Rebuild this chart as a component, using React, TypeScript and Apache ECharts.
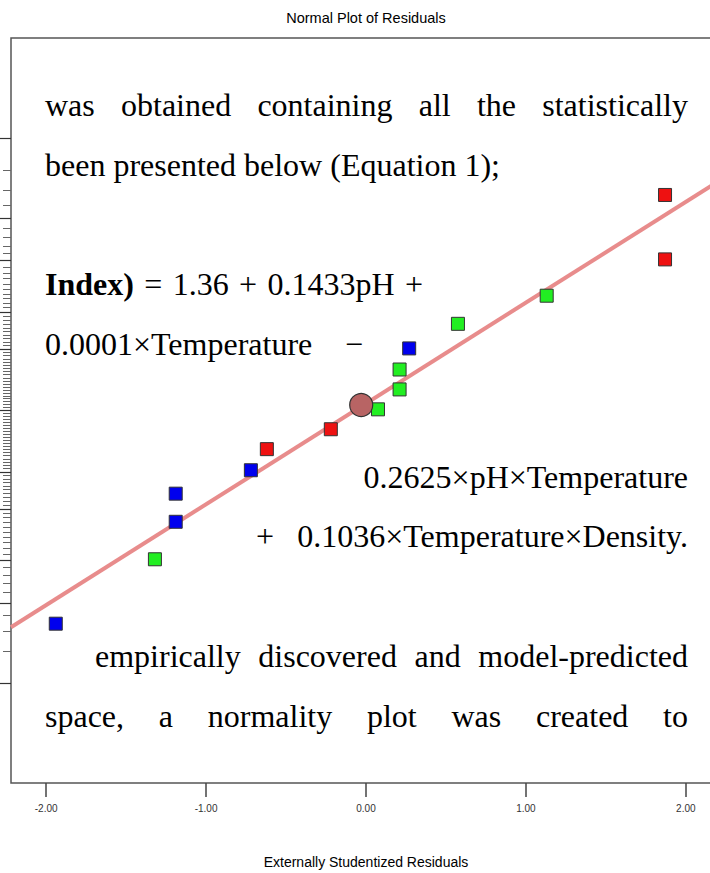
import React, { useEffect, useRef } from "react";
import * as echarts from "echarts";

// ---- Data (x: externally studentized residual, z: normal quantile) ----
const blueX = [-1.94, -1.19, -1.19, -0.72, 0.27];
const blueZ = [-1.82, -0.95, -0.71, -0.51, 0.53];
const greenX = [-1.32, 0.075, 0.21, 0.21, 0.575, 1.13];
const greenZ = [-1.27, 0.01, 0.18, 0.35, 0.74, 0.98];
const redX = [-0.62, -0.22, 1.87, 1.87];
const redZ = [-0.33, -0.16, 1.29, 1.84];
const highlightX = [-0.03];
const highlightZ = [0.047];
const fitX = [-2.22, 2.22];
const fitZ = [-1.85, 1.97];

const xTicks = [-2, -1, 0, 1, 2];
const majorPercents = [1, 5, 10, 20, 30, 50, 70, 80, 90, 95, 99];

// ---- Overlaid text ----
const line1 = ["was", "obtained", "containing", "all", "the", "statistically"];
const line2 = "been presented below (Equation 1);";
const line3 = ["Index)", "=", "1.36", "+", "0.1433pH", "+"];
const line4a = "0.0001×Temperature";
const line4b = "−";
const line5 = "0.2625×pH×Temperature";
const line6a = "+";
const line6b = "0.1036×Temperature×Density.";
const line7 = ["empirically", "discovered", "and", "model-predicted"];
const line8 = ["space,", "a", "normality", "plot", "was", "created", "to"];

const SERIF = '"Liberation Serif", "Times New Roman", serif';
const SANS = '"Liberation Sans", Arial, Helvetica, sans-serif';
const FONT = `32px ${SERIF}`;
const BOLD = `bold 32px ${SERIF}`;

// inverse standard normal CDF (Acklam) - probability axis transform
function probit(p: number): number {
  const a = [-39.69683028665376, 220.9460984245205, -275.9285104469687, 138.357751867269, -30.66479806614716, 2.506628277459239];
  const b = [-54.47609879822406, 161.5858368580409, -155.6989798598866, 66.80131188771972, -13.28068155211639];
  const c = [-0.007784894002430293, -0.3223964580411365, -2.400758277161838, -2.549732539343734, 4.374664141464968, 2.938163982698783];
  const d = [0.007784695709041462, 0.3224671290700398, 2.445134137142996, 3.754408661907416];
  const pl = 0.02425;
  if (p < pl) {
    const q = Math.sqrt(-2 * Math.log(p));
    return (((((c[0] * q + c[1]) * q + c[2]) * q + c[3]) * q + c[4]) * q + c[5]) / ((((d[0] * q + d[1]) * q + d[2]) * q + d[3]) * q + 1);
  }
  if (p > 1 - pl) {
    const q = Math.sqrt(-2 * Math.log(1 - p));
    return -(((((c[0] * q + c[1]) * q + c[2]) * q + c[3]) * q + c[4]) * q + c[5]) / ((((d[0] * q + d[1]) * q + d[2]) * q + d[3]) * q + 1);
  }
  const q = p - 0.5;
  const r = q * q;
  return ((((((a[0] * r + a[1]) * r + a[2]) * r + a[3]) * r + a[4]) * r + a[5]) * q) / (((((b[0] * r + b[1]) * r + b[2]) * r + b[3]) * r + b[4]) * r + 1);
}

function zip(xs: number[], ys: number[]) {
  return xs.map((x, i) => [x, ys[i]]);
}

function txt(text: string, x: number, y: number, font: string, align: string = "left") {
  return {
    type: "text",
    z: 100,
    x,
    y,
    style: {
      text,
      font,
      fill: "#000",
      textAlign: align,
      textVerticalAlign: "middle",
      align,
      verticalAlign: "middle",
    },
  };
}

function justify(words: string[], fonts: string[], x0: number, x1: number, y: number) {
  const ctx = document.createElement("canvas").getContext("2d")!;
  const widths = words.map((w, i) => {
    ctx.font = fonts[i];
    return ctx.measureText(w).width;
  });
  const total = widths.reduce((s, v) => s + v, 0);
  const gap = (x1 - x0 - total) / (words.length - 1);
  let x = x0;
  return words.map((w, i) => {
    const el = txt(w, x, y, fonts[i]);
    x += widths[i] + gap;
    return el;
  });
}

export default function App() {
  const ref = useRef<HTMLDivElement>(null);
  useEffect(() => {
    if (!ref.current) return;
    const chart = echarts.init(ref.current, undefined, { renderer: "svg" });
    const majorZ = majorPercents.map((p) => probit(p / 100));
    const minorZ: number[] = [];
    for (let p = 1; p <= 99; p++) if (majorPercents.indexOf(p) < 0) minorZ.push(probit(p / 100));

    const graphics: any[] = [
      txt("Normal Plot of Residuals", 366, 18, `14.5px ${SANS}`, "center"),
      txt("Externally Studentized Residuals", 366, 862, `14px ${SANS}`, "center"),
      ...justify(line1, line1.map(() => FONT), 45, 688, 105),
      txt(line2, 45, 165, FONT),
      ...justify(line3, line3.map((_, i) => (i === 0 ? BOLD : FONT)), 45, 423, 284),
      txt(line4a, 45, 344, FONT),
      txt(line4b, 345, 344, FONT),
      txt(line5, 688, 477, FONT, "right"),
      txt(line6a, 256, 536, FONT),
      txt(line6b, 688, 536, FONT, "right"),
      ...justify(line7, line7.map(() => FONT), 95, 688, 656),
      ...justify(line8, line8.map(() => FONT), 45, 688, 716),
    ];

    const yBase = {
      type: "value",
      min: -3.18,
      max: 3.18,
      position: "left",
      axisLine: { show: false, onZero: false },
      axisLabel: { show: false },
      splitLine: { show: false },
    };

    const square = (color: string) => ({ color, borderColor: "#333", borderWidth: 1, opacity: 1 });

    chart.setOption({
      animation: false,
      backgroundColor: "#fff",
      grid: {
        left: 11,
        top: 38,
        width: 710,
        height: 745,
        show: true,
        borderColor: "#555",
        borderWidth: 1.5,
        backgroundColor: "transparent",
      },
      xAxis: {
        type: "value",
        min: -2.22,
        max: 2.22,
        position: "bottom",
        axisLine: { show: false, onZero: false },
        splitLine: { show: false },
        axisTick: {
          show: true,
          inside: false,
          length: 14,
          customValues: xTicks,
          lineStyle: { color: "#444", width: 1.5 },
        },
        axisLabel: {
          customValues: xTicks,
          formatter: (v: number) => v.toFixed(2),
          fontFamily: SANS,
          fontSize: 10,
          color: "#333",
          margin: 20,
        },
      },
      yAxis: [
        {
          ...yBase,
          axisTick: {
            show: true,
            inside: false,
            length: 11,
            customValues: majorZ,
            lineStyle: { color: "#333", width: 1.2 },
          },
        },
        {
          ...yBase,
          axisTick: {
            show: true,
            inside: false,
            length: 8,
            customValues: minorZ,
            lineStyle: { color: "#666", width: 1 },
          },
        },
      ],
      series: [
        {
          type: "line",
          data: zip(fitX, fitZ),
          symbol: "none",
          lineStyle: { color: "#e88c8c", width: 4 },
          z: 2,
          silent: true,
        },
        {
          type: "scatter",
          data: zip(blueX, blueZ),
          symbol: "rect",
          symbolSize: 13,
          itemStyle: square("#0000ee"),
          z: 3,
        },
        {
          type: "scatter",
          data: zip(greenX, greenZ),
          symbol: "rect",
          symbolSize: 13,
          itemStyle: square("#22ee22"),
          z: 3,
        },
        {
          type: "scatter",
          data: zip(redX, redZ),
          symbol: "rect",
          symbolSize: 13,
          itemStyle: square("#ee1111"),
          z: 3,
        },
        {
          type: "scatter",
          data: zip(highlightX, highlightZ),
          symbol: "circle",
          symbolSize: 23,
          itemStyle: { color: "#b86464", borderColor: "#333", borderWidth: 1.2, opacity: 1 },
          z: 4,
        },
      ],
      graphic: graphics,
    });
    return () => chart.dispose();
  }, []);

  return (
    <div style={{ position: "fixed", left: 0, top: 0, width: 710, height: 873, overflow: "hidden", background: "#fff" }}>
      <div ref={ref} style={{ width: 760, height: 873 }} />
    </div>
  );
}
